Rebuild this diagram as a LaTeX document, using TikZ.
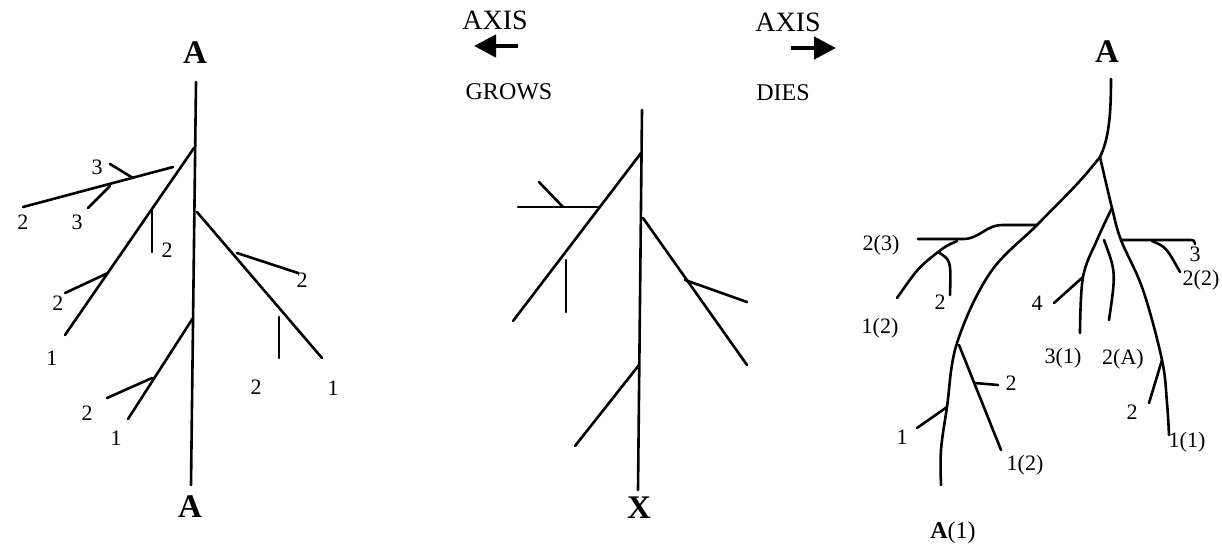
\documentclass[tikz,border=0pt]{standalone}
\usepackage{fontspec}
\setmainfont{Liberation Serif}
\usetikzlibrary{arrows.meta}
\begin{document}
\begin{tikzpicture}[x=0.5pt,y=-0.5pt, line width=1.3pt, line cap=round, line join=round,
 lbl/.style={inner sep=0pt, font=\fontsize{11}{11}\selectfont},
 big/.style={inner sep=0pt, font=\fontsize{16.5}{16.5}\selectfont\bfseries},
 hdr/.style={inner sep=0pt, font=\fontsize{14}{14}\selectfont},
 subhdr/.style={inner sep=0pt, font=\fontsize{12}{12}\selectfont},
 axarrow/.style={line width=2.2pt, line cap=butt, -{Triangle[length=11pt,width=11pt]}}]
\useasboundingbox (0,0) rectangle (1222,547);

% ---------- LEFT TREE ----------
\node[big] (LA1) at (195,53) {A};
\node[big] (LA2) at (190,507) {A};
\coordinate (LTt) at (196,82); \coordinate (LTb) at (191,485);
\draw (LTt) -- (LTb);
\coordinate (L1a) at (194,148); \coordinate (L1b) at (65,335);
\coordinate (L1c) at (152,210); \coordinate (L1d) at (152,252);
\coordinate (L1e) at (108,273); \coordinate (L1f) at (65,293);
\draw (L1a) -- (L1b);
\draw (L1c) -- (L1d);
\draw (L1e) -- (L1f);
\coordinate (L2a) at (173,167); \coordinate (L2b) at (23,207);
\coordinate (L2c) at (133,178); \coordinate (L2d) at (110,164);
\coordinate (L2e) at (110,186); \coordinate (L2f) at (88,208);
\draw (L2a) -- (L2b);
\draw (L2c) -- (L2d);
\draw (L2e) -- (L2f);
\coordinate (L3a) at (197,212); \coordinate (L3b) at (322,358);
\coordinate (L3c) at (237,253); \coordinate (L3d) at (298,273);
\coordinate (L3e) at (279,317); \coordinate (L3f) at (279,358);
\draw (L3a) -- (L3b);
\draw (L3c) -- (L3d);
\draw (L3e) -- (L3f);
\coordinate (L4a) at (193,318); \coordinate (L4b) at (128,419);
\coordinate (L4c) at (152,378); \coordinate (L4d) at (107,398);
\draw (L4a) -- (L4b);
\draw (L4c) -- (L4d);
\node[lbl] (l1) at (167,250) {2};
\node[lbl] (l2) at (58,303) {2};
\node[lbl] (l3) at (52,358) {1};
\node[lbl] (l4) at (97,167) {3};
\node[lbl] (l5) at (77,222) {3};
\node[lbl] (l6) at (23,222) {2};
\node[lbl] (l7) at (302,280) {2};
\node[lbl] (l8) at (256,387) {2};
\node[lbl] (l9) at (333,388) {1};
\node[lbl] (l10) at (87,413) {2};
\node[lbl] (l11) at (116,438) {1};

% ---------- MIDDLE ----------
\node[hdr] (ax1) at (495,20) {AXIS};
\coordinate (ar1s) at (518,46); \coordinate (ar1e) at (474,46);
\draw[axarrow] (ar1s) -- (ar1e);
\node[subhdr] (grows) at (509,92) {GROWS};
\node[hdr] (ax2) at (788,22) {AXIS};
\coordinate (ar2s) at (791,48); \coordinate (ar2e) at (836,48);
\draw[axarrow] (ar2s) -- (ar2e);
\node[subhdr] (dies) at (783,93) {DIES};

\node[big] (MX) at (639,508) {X};
\coordinate (MTt) at (642,110); \coordinate (MTb) at (638,490);
\draw (MTt) -- (MTb);
\coordinate (M1a) at (641,153); \coordinate (M1b) at (513,321);
\coordinate (M1c) at (598,207); \coordinate (M1d) at (518,207);
\coordinate (M1e) at (563,207); \coordinate (M1f) at (539,182);
\coordinate (M1g) at (566,260); \coordinate (M1h) at (566,312);
\draw (M1a) -- (M1b);
\draw (M1c) -- (M1d);
\draw (M1e) -- (M1f);
\draw (M1g) -- (M1h);
\coordinate (M2a) at (643,218); \coordinate (M2b) at (747,365);
\coordinate (M2c) at (685,280); \coordinate (M2d) at (747,302);
\draw (M2a) -- (M2b);
\draw (M2c) -- (M2d);
\coordinate (M3a) at (639,365); \coordinate (M3b) at (575,446);
\draw (M3a) -- (M3b);

% ---------- RIGHT TREE ----------
\node[big] (RA) at (1107,52) {A};
\coordinate (Rtop) at (1111,79);
\coordinate (Rfork) at (1100,157);
\draw (Rtop) .. controls (1111,120) and (1108,140) .. (Rfork);
% big left branch
\coordinate (Rb1) at (1037,225);
\coordinate (Rb2) at (957,343);
\coordinate (Rb3) at (947,407);
\coordinate (Rbend) at (941,485);
\draw plot[smooth, tension=0.6] coordinates {(Rfork) (1078,183) (Rb1) (990,273) (Rb2) (Rb3) (941,450) (Rbend)};
% left side sub-branch 2(3)
\coordinate (Rh1) at (963,239);
\coordinate (Rh2) at (918,239);
\draw (Rb1) -- (1003,225) .. controls (985,225) and (980,239) .. (Rh1) -- (Rh2);
\coordinate (Rs1) at (957,241);
\coordinate (Rs2) at (938,252);
\coordinate (Rs3) at (897,298);
\draw (Rs1) .. controls (946,246) .. (Rs2) .. controls (918,268) .. (Rs3);
\coordinate (Rs4) at (950,295);
\draw (Rs2) .. controls (951,260) .. (Rs4);
% fork near bottom-left
\coordinate (Rc1) at (959,345); \coordinate (Rc2) at (1001,450);
\coordinate (Rc3) at (975,383); \coordinate (Rc4) at (998,385);
\draw (Rc1) -- (Rc2);
\draw (Rc3) -- (Rc4);
\coordinate (Rd1) at (917,428);
\draw (Rb3) -- (Rd1);
% right branch
\coordinate (Rr1) at (1112,208);
\coordinate (Rr2) at (1121,240);
\coordinate (Rr3) at (1162,360);
\coordinate (Rrend) at (1169,435);
\draw plot[smooth, tension=0.6] coordinates {(Rfork) (Rr1) (Rr2) (1143,290) (Rr3) (1167,403) (Rrend)};
\coordinate (Rq1) at (1189,240);
\coordinate (Rq2) at (1195,244);
\draw (Rr2) -- (Rq1) .. controls (1194,240) .. (Rq2);
\coordinate (Rq3) at (1152,241);
\coordinate (Rq4) at (1180,272);
\draw (Rq3) .. controls (1166,247) .. (Rq4);
% left sub of right branch
\coordinate (Rp1) at (1083,277);
\coordinate (Rp2) at (1080,333);
\draw plot[smooth, tension=0.6] coordinates {(Rr1) (1097,240) (Rp1) (Rp2)};
\coordinate (Rp3) at (1054,303);
\draw (Rp1) -- (Rp3);
% detached curve 2(A)
\coordinate (Ru1) at (1104,240);
\coordinate (Ru2) at (1109,320);
\draw (Ru1) .. controls (1116,272) .. (Ru2);
\coordinate (Rv1) at (1149,403);
\draw (Rr3) -- (Rv1);

\node[lbl] (r1) at (881,245) {2(3)};
\node[lbl] (r2) at (880,328) {1(2)};
\node[lbl] (r3) at (940,302) {2};
\node[lbl] (r4) at (1011,383) {2};
\node[lbl] (r5) at (1025,465) {1(2)};
\node[lbl] (r6) at (902,437) {1};
\node[inner sep=0pt, font=\fontsize{12}{12}\selectfont] (r7) at (953,533) {\textbf{A}(1)};
\node[lbl] (r8) at (1037,303) {4};
\node[lbl] (r9) at (1063,358) {3(1)};
\node[lbl] (r10) at (1123,359) {2(A)};
\node[lbl] (r11) at (1195,254) {3};
\node[lbl] (r12) at (1201,280) {2(2)};
\node[lbl] (r13) at (1132,412) {2};
\node[lbl] (r14) at (1187,442) {1(1)};
\end{tikzpicture}
\end{document}
